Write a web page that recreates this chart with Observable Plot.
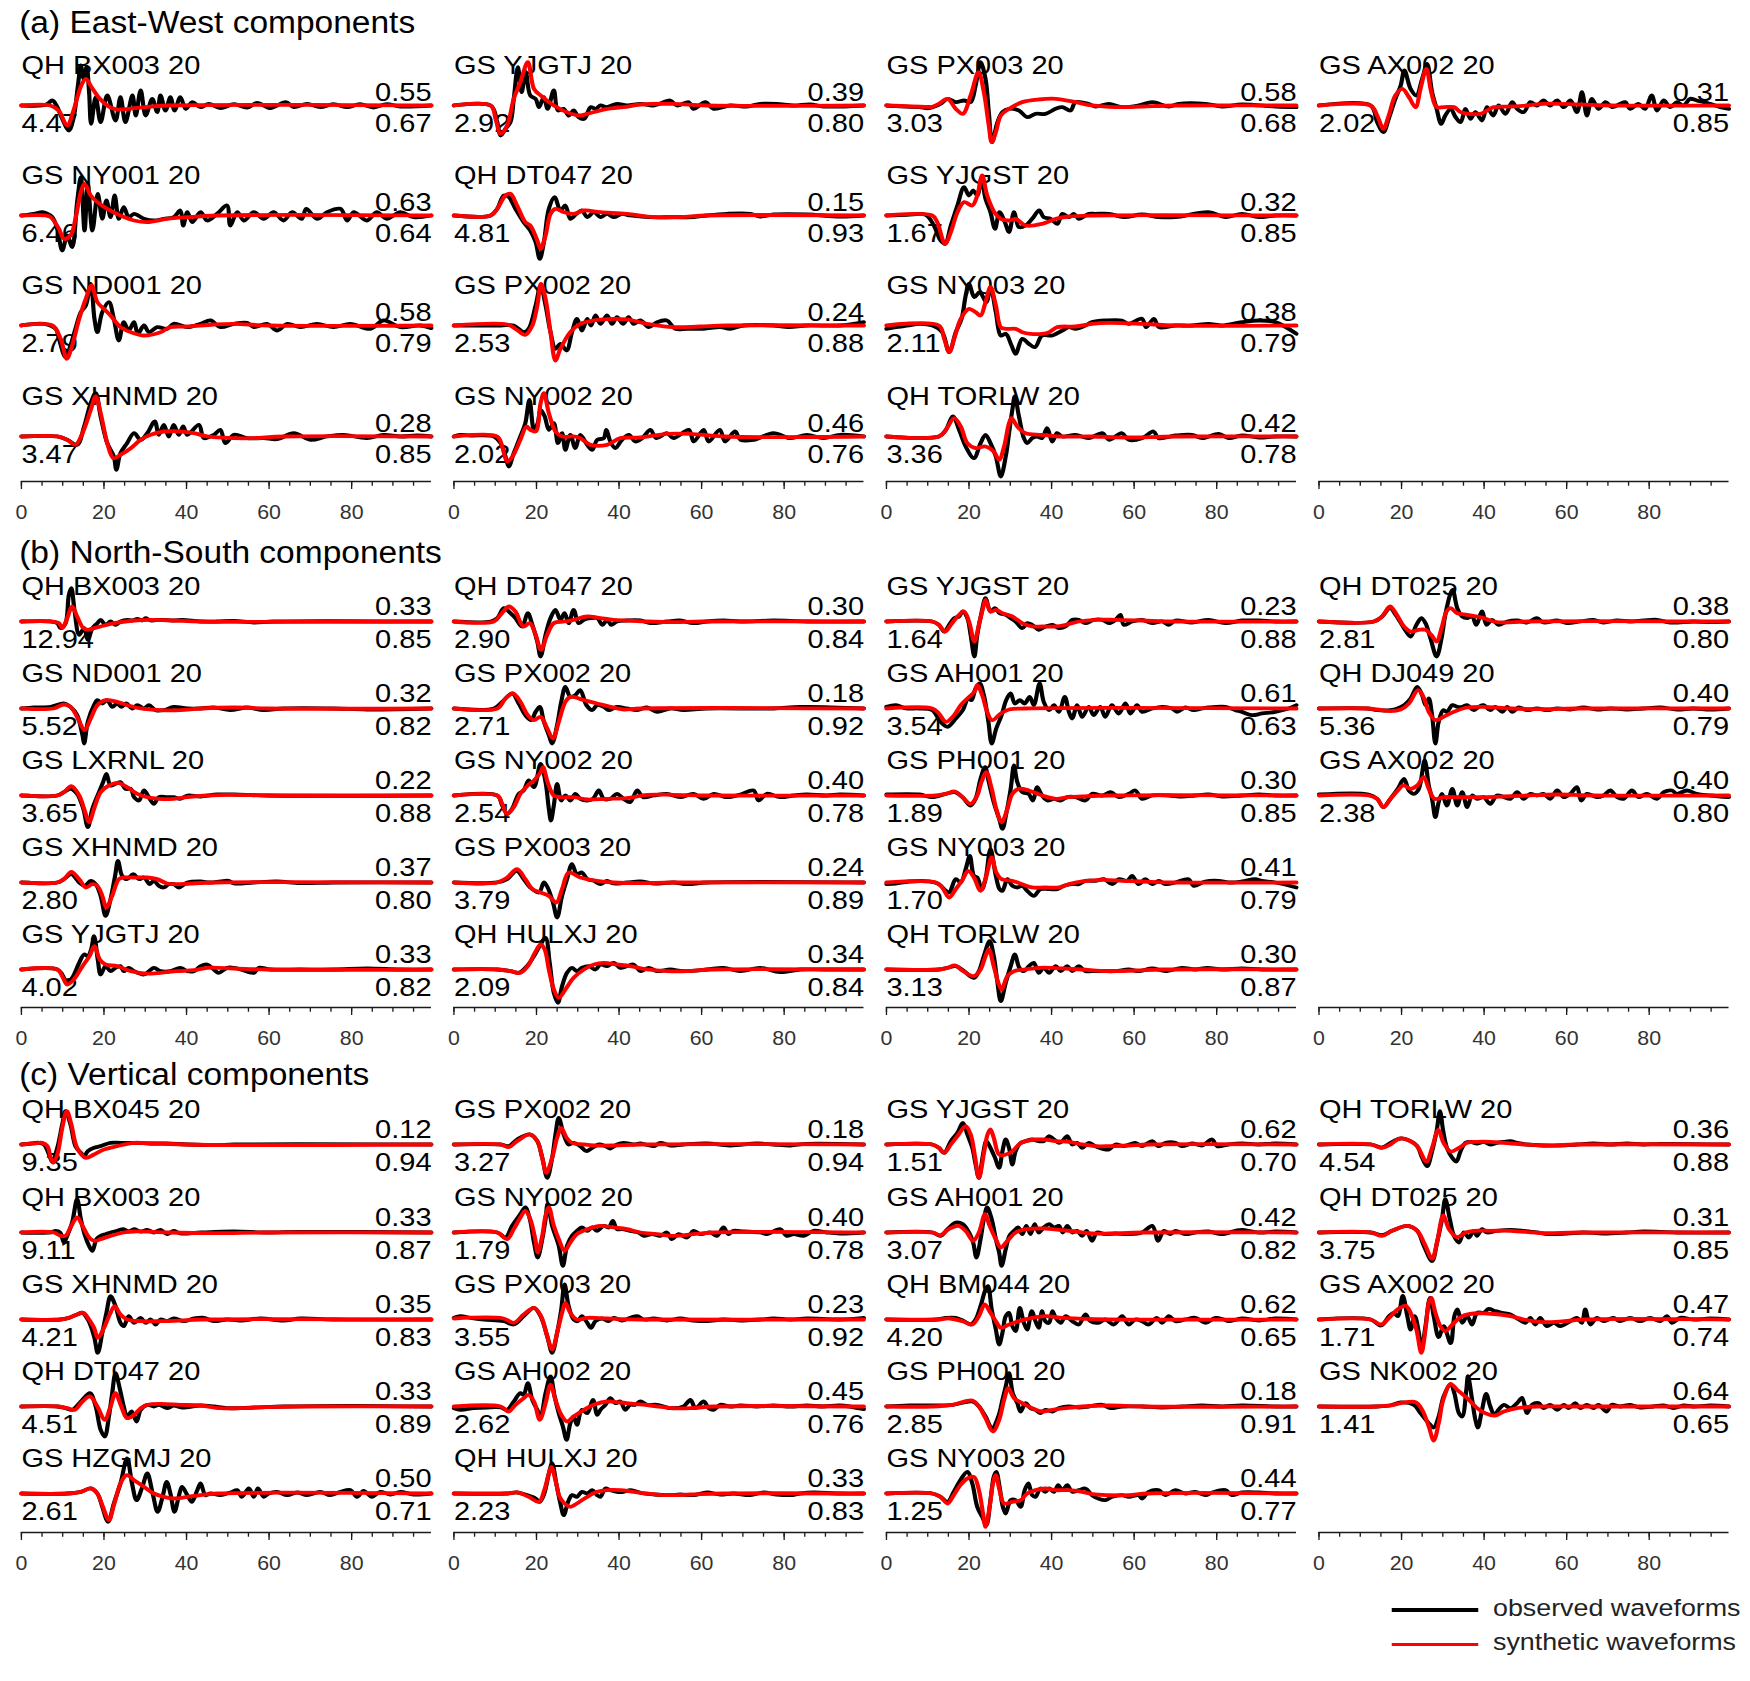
<!DOCTYPE html>
<html><head><meta charset="utf-8">
<script src="https://cdn.jsdelivr.net/npm/d3@7"></script>
<script src="https://cdn.jsdelivr.net/npm/@observablehq/plot@0.6"></script>
<style>
html,body{margin:0;padding:0;background:#fff;overflow:hidden;}
#stage{position:relative;width:1598.2px;height:1681px;transform:scaleX(1.095);transform-origin:0 0;font-family:"Liberation Sans",Arial,Helvetica,sans-serif;}
.title{position:absolute;font-size:30.6px;line-height:1;white-space:nowrap;color:#000;}
.leg{position:absolute;font-size:24.5px;line-height:1;white-space:nowrap;color:#222;}
.sw{position:absolute;height:3.5px;}
</style></head><body><div id="stage"></div><script>
// ---------------- DATA ----------------
const sectionTitles = ["(a) East-West components", "(b) North-South components", "(c) Vertical components"];
const timeTicks = [0, 20, 40, 60, 80];
const timeMinorTicks = [0, 5, 10, 15, 20, 25, 30, 35, 40, 45, 50, 55, 60, 65, 70, 75, 80, 85, 90, 95];
const legendLabels = ["observed waveforms", "synthetic waveforms"];

// East-West (per column, per row)
const ewStations = [["QH BX003 20","GS NY001 20","GS ND001 20","GS XHNMD 20"],["GS YJGTJ 20","QH DT047 20","GS PX002 20","GS NY002 20"],["GS PX003 20","GS YJGST 20","GS NY003 20","QH TORLW 20"],["GS AX002 20"]];
const ewPeak = [[4.47,6.46,2.79,3.47],[2.92,4.81,2.53,2.02],[3.03,1.67,2.11,3.36],[2.02]];
const ewTop = [[0.55,0.63,0.58,0.28],[0.39,0.15,0.24,0.46],[0.58,0.32,0.38,0.42],[0.31]];
const ewBottom = [[0.67,0.64,0.79,0.85],[0.80,0.93,0.88,0.76],[0.68,0.85,0.79,0.78],[0.85]];
// traces: flat [time(s), normalized amplitude, ...]
const ewObs = [
 [
  [0,0, 5,0, 6.3,5, 7.5,15, 8.5,0, 9.9,-40, 11.5,-75, 12.6,-40, 13.7,60, 14.4,120, 15.1,80, 15.8,115, 16.4,40, 16.9,-55, 18,25, 19.2,-50, 20.8,30, 22.8,-45, 24,25, 25.2,-50, 26.9,30, 27.7,-30, 28.9,45, 30.1,-30, 31.7,20, 32.9,-20, 33.7,30, 34.9,-15, 36.1,25, 37.1,-15, 38.5,25, 39.8,-10, 41.4,10, 43.4,-5, 45.4,5, 48.2,-8, 51.5,4, 54.7,-6, 57.1,8, 60.3,-8, 64,10, 66,-5, 69.2,5, 72.4,-5, 75.6,4, 78.9,-5, 82,4, 85.3,-6, 88.5,4, 91.8,-3, 99.3,0],
  [0,0, 3,5, 5.1,10, 6.3,5, 7.5,-5, 8.7,-40, 9.9,-105, 11.1,-60, 12.3,-95, 13.5,40, 14.4,115, 15.3,-45, 16.1,95, 17.2,-45, 18.5,65, 19.6,-10, 20.6,45, 21.6,-5, 22.6,60, 23.6,-10, 24.8,25, 26,-5, 27.3,5, 29.7,-10, 32.1,-15, 34.5,-10, 36.9,-5, 38.5,15, 39.2,-30, 40.2,10, 41.4,-20, 43.4,10, 45,-15, 47.4,5, 49.8,30, 50.6,-30, 52.3,10, 53.9,-15, 56.3,10, 58.7,-10, 61.1,10, 63.5,-15, 65.6,10, 67.9,-10, 69,20, 71.6,-10, 74,10, 77.3,20, 78.9,-15, 80.5,10, 83.7,-15, 86.1,10, 88.5,-10, 91.8,10, 95,-5, 99.3,0],
  [0,0, 5.5,5, 8.3,-10, 9.1,-40, 10.7,-95, 11.9,-60, 13.1,-10, 14.4,40, 15.6,60, 16.8,125, 17.7,20, 18.4,-20, 19.6,40, 21.2,70, 22.4,20, 23.6,-45, 24.8,10, 26,-15, 27.3,10, 28.2,-25, 29.7,0, 30.9,-20, 32.9,-5, 35.3,-10, 36.9,5, 40.2,-5, 43.4,5, 45.8,15, 48.2,-5, 51.5,5, 54.7,8, 56.3,-5, 59.5,5, 62,-15, 64.4,5, 67.6,-5, 71.6,5, 75.6,-5, 79.7,5, 84.5,-10, 87.7,15, 91.8,-5, 96.6,0, 99.3,-8],
  [0,0, 8.7,0, 11.1,-10, 13.5,-25, 15.2,30, 16.8,100, 18,130, 19.2,60, 20.8,-20, 22.4,-60, 23,-100, 24,-50, 25.6,-20, 27.3,10, 28.9,-10, 30.5,10, 32.3,45, 33.3,5, 34.5,35, 35.7,0, 36.9,35, 38.1,5, 39.2,30, 40.2,5, 43,35, 44.2,-5, 46.6,5, 48.2,20, 49.4,-20, 51.5,5, 54.7,-5, 58.7,-5, 62,-8, 66,10, 70,-10, 74,0, 78.1,5, 83.7,-5, 87.7,5, 91.8,0, 95.8,3, 99.3,0]
 ],
 [
  [0,0, 8.9,0, 10.5,-50, 11.3,-90, 12.5,-70, 13.7,-50, 14.5,20, 15.5,115, 16.4,40, 17.4,100, 18.5,30, 19.8,20, 20.6,-5, 21.8,25, 22.7,-10, 24.2,45, 25.2,-15, 26.6,-10, 27.8,-30, 29,-15, 30.2,-35, 31.6,-40, 33.1,-5, 34.3,-10, 35.5,0, 37,-5, 39.5,5, 41.9,0, 45.2,5, 48.4,0, 52.4,15, 54,0, 56.9,10, 58,-10, 60.9,10, 62.9,-10, 66.9,0, 71,-3, 74.2,5, 78.2,5, 82.3,0, 86.3,3, 89.5,-3, 99.3,0],
  [0,0, 8.9,0, 10.5,20, 12.1,60, 13.3,55, 14.9,20, 16.9,-20, 18.5,-45, 19.8,-80, 20.8,-130, 21.8,-80, 23,20, 24.4,55, 25.8,15, 27,30, 28.2,-10, 29.7,5, 31,15, 32.3,-5, 33.9,10, 35.5,-5, 37.1,5, 38.7,-5, 40.7,5, 42.7,0, 47.6,-5, 53.2,-5, 58.1,-5, 61.3,0, 66.1,5, 71.8,5, 74.2,-3, 77.4,3, 85.5,3, 93.5,-3, 99.3,0],
  [0,0, 11.3,0, 14.5,0, 16.9,-20, 18.1,-10, 19.8,60, 21,120, 22.2,60, 23.4,-20, 24.6,-70, 25.8,-55, 27.3,-75, 28.6,-20, 29.8,20, 31,-15, 32.3,20, 33.2,0, 34.3,30, 35.5,5, 37.1,30, 38.3,5, 39.5,25, 41,5, 42.3,25, 43.5,5, 45.2,15, 47.2,-5, 49.2,10, 51.6,15, 53.6,-10, 56.5,-10, 60.5,-10, 64.5,-5, 66.9,-10, 70.2,0, 77.4,0, 81.1,-5, 85.5,0, 93.5,0, 99.3,10],
  [0,0, 1.5,5, 4,3, 9.7,0, 11.3,-20, 12.5,-60, 13.3,-90, 14.5,-50, 16.1,0, 17.3,40, 18.3,110, 19.4,20, 20.3,40, 21,80, 22,60, 23,20, 24.2,40, 25.2,-20, 26.2,10, 27,-40, 28.2,5, 29.4,-35, 30.6,5, 32.3,-25, 33.5,-40, 34.7,-10, 36.3,-5, 36.9,20, 37.9,-15, 39.1,-35, 40.7,-10, 42.4,5, 43.9,-15, 45.6,-5, 47.6,20, 49,-5, 51.6,10, 53.2,-5, 56.9,20, 58.1,-15, 60.5,20, 61.7,-15, 64.4,20, 65.7,-15, 68.1,15, 69.4,-10, 72.6,-10, 77.4,10, 81.5,-5, 85.5,5, 89.5,-5, 93.5,5, 99.3,0]
 ],
 [
  [0,0, 2.3,-2, 7.9,-5, 10.3,-8, 13.1,5, 14.8,20, 16.8,10, 18.8,15, 20.4,10, 21.6,60, 22.8,130, 24,80, 24.8,-20, 25.6,-110, 26.9,-50, 28.1,-20, 29.7,-10, 32.1,-15, 34.1,-35, 36.1,-25, 38.5,-25, 41,-10, 42.6,-5, 44.6,-15, 45.8,10, 48.9,5, 50.6,-3, 53.9,5, 57,-5, 61.1,0, 64.4,10, 68.4,-3, 70.8,5, 77.3,5, 81.3,-3, 86.1,3, 94.2,-3, 99.3,-5],
  [0,0, 5,2, 9.5,2, 11.5,-30, 13.1,-75, 14.2,-85, 15.6,-30, 17.2,30, 18.8,85, 20,60, 21,75, 22,60, 23,110, 24,50, 25.2,10, 26.3,-40, 27.4,10, 28.7,-20, 29.7,-50, 30.9,10, 32.1,-35, 33.7,-30, 35.3,-10, 37,15, 38.1,-5, 39.8,-10, 41.4,-25, 42.6,5, 44.2,-5, 45.4,5, 46.6,-10, 49,5, 50.6,5, 53.9,5, 57.5,-5, 61.9,3, 66,-5, 70,-5, 78,10, 82.1,-5, 86.1,5, 90.2,-5, 94.2,0, 99.3,0],
  [0,-10, 2.3,-5, 5.5,0, 7.9,5, 11.1,0, 13.5,-20, 15.2,-80, 16.8,-20, 18.2,20, 19.2,90, 20,125, 21.3,85, 22.6,100, 24.2,70, 25.2,115, 26.5,40, 27.7,-30, 28.9,-25, 30.3,-60, 31.3,-85, 32.9,-40, 34.5,-55, 36,-65, 37.7,-30, 40.2,-30, 42.6,-15, 44.2,-5, 45.8,-10, 48.2,0, 49.8,10, 53,15, 57,15, 58.7,5, 61.9,20, 62.9,-5, 64.8,20, 66,-5, 70,0, 74,0, 78,5, 81.3,0, 86.1,10, 90.2,15, 94.2,10, 99.3,-25],
  [0,0, 12.7,0, 14.4,20, 16.1,60, 17.6,20, 19.2,-30, 21.2,-65, 22.8,-20, 24,5, 25.2,-20, 26.5,-60, 27.7,-120, 28.9,-60, 29.7,10, 30.5,80, 31.1,120, 32.1,60, 33.3,-5, 34.1,-20, 35.3,-5, 36.5,0, 37.7,-5, 38.9,25, 40.2,-15, 41.3,10, 42.6,0, 45.8,5, 49,-5, 52.3,10, 53.9,-10, 57,10, 58.7,-10, 61.9,-5, 64.7,15, 65.9,-5, 70,3, 74,5, 76.5,-5, 80.5,8, 82.9,-5, 86.1,3, 90.2,-3, 94.2,0, 99.3,0]
 ],
 [
  [0,0, 12.5,0, 14.1,-50, 15.6,-80, 16.9,-40, 18.5,20, 19.8,60, 20.7,105, 22.2,50, 23.6,30, 25,80, 26.2,125, 27.4,40, 28.5,-10, 29.6,-55, 30.6,-30, 31.9,-10, 33.1,-35, 34.3,-50, 35.5,-10, 36.7,-40, 37.9,-20, 39.5,-45, 40.7,-5, 42.2,-30, 43.5,0, 45.2,-25, 46.8,10, 48,-10, 49.6,-20, 51.2,10, 52.8,0, 54.4,15, 56,0, 57.7,15, 59.3,-5, 60.9,15, 62.5,-20, 63.7,40, 64.9,-30, 66.1,20, 67.7,-10, 69.4,10, 71,-5, 73,5, 74.2,10, 75.4,-10, 77.4,5, 79,-10, 80.6,30, 81.9,-15, 83.5,15, 85.1,-5, 86.7,10, 88.3,0, 89.9,20, 91.5,15, 94.8,5, 97.2,-5, 99.3,-10]
 ]
];
const ewSyn = [
 [
  [0,0, 7,0, 9,-15, 11.1,-60, 12.5,-20, 14.5,60, 15.6,80, 17,55, 19,20, 21,-2, 23,-12, 26,-10, 30,-5, 35,0, 99.3,0],
  [0,0, 6,0, 7.1,-5, 9.1,-40, 10.3,-70, 11.9,-60, 13.1,-10, 14.4,70, 15.3,95, 16.8,60, 18.4,40, 20.8,20, 24,0, 27.3,-15, 30.5,-20, 35.3,-10, 40.2,-5, 47.4,0, 99.3,0],
  [0,0, 7.5,0, 9.5,-40, 11,-100, 12.3,-60, 14,20, 15.6,80, 17,120, 18.4,70, 20,50, 21.6,30, 24,-5, 26.5,-20, 29.7,-30, 33.7,-20, 36.1,-5, 40.2,-3, 46.6,3, 51.5,5, 60,0, 99.3,0],
  [0,0, 8.7,0, 11.1,-10, 13.1,-25, 14.8,10, 16.8,80, 18,120, 19.2,70, 20.8,-20, 22.3,-65, 24,-55, 26.5,-35, 28.9,-10, 31.3,5, 34.5,15, 38.5,15, 41.8,10, 45,0, 51.5,-5, 56.3,-5, 63.5,0, 99.3,0]
 ],
 [
  [0,0, 8.9,0, 10.1,-40, 11.3,-85, 12.9,-60, 14.5,20, 16.1,70, 17.9,130, 19.4,50, 21,30, 24.2,0, 27.4,-20, 30.6,-30, 32.3,-25, 37.1,-10, 41.1,-5, 45.2,3, 53.2,5, 61.3,0, 99.3,0],
  [0,0, 8.9,0, 10.5,20, 12.5,60, 13.7,65, 15.3,30, 17.3,-20, 18.5,-30, 20.2,-75, 21,-100, 22.2,-60, 23.4,5, 24.6,20, 26.6,10, 29,5, 31.5,15, 35.5,10, 41.9,5, 48.4,-5, 54.8,-5, 61.3,0, 99.3,0],
  [0,0, 12.9,3, 14.9,-10, 17.3,-28, 19,0, 20.2,60, 21.1,125, 22.2,80, 23.4,-20, 24.6,-105, 25.8,-70, 28.2,-20, 30.6,5, 33.9,15, 38.7,20, 41.9,18, 46.8,5, 53.2,-5, 59.5,-3, 66,0, 99.3,0],
  [0,0, 10.5,0, 11.7,-30, 12.9,-75, 14.2,-60, 16.1,-10, 17.6,30, 18.5,20, 19.8,15, 21,100, 21.8,130, 23,70, 24.6,15, 26.2,0, 29,0, 30.6,-5, 33.1,-25, 37.1,-25, 40.3,-5, 45.2,-3, 51.6,8, 57.3,8, 65.3,0, 99.3,0]
 ],
 [
  [0,0, 9.5,-4, 11.1,-4, 12.7,5, 14.8,20, 16.8,-10, 18.5,-25, 20.4,30, 22.3,100, 23.6,40, 24.8,-60, 25.5,-110, 26.5,-80, 27.7,-30, 29.7,-10, 32.9,10, 36.9,18, 41,20, 45.8,10, 49.8,0, 55.5,-5, 62,-3, 70,0, 99.3,0],
  [0,0, 11.1,0, 12.3,-20, 14.2,-85, 15.6,-50, 17.2,10, 18.8,40, 20.8,30, 22,60, 23.2,120, 24.4,60, 26.4,5, 27.7,-10, 29.7,-15, 31.3,-10, 33.7,-30, 37.7,-25, 41,-10, 44.2,-3, 49.8,0, 99.3,0],
  [0,0, 12.7,0, 14,-40, 15.2,-80, 16.4,-40, 18,20, 20,50, 21.6,40, 22.8,30, 24,70, 25.2,115, 26.5,60, 27.7,-5, 28.9,-10, 31.3,-10, 32.9,-20, 34.9,-25, 37.7,-25, 39.4,-20, 41.4,-5, 45.8,-3, 49.8,5, 53.9,8, 62,5, 70,0, 99.3,0],
  [0,0, 12.7,0, 14.4,20, 16.4,55, 18,30, 19.6,-20, 21.6,-35, 24,-30, 26,-45, 27.3,-70, 28.5,-30, 29.7,40, 30.3,55, 31.7,30, 33.7,10, 37.7,5, 41.8,0, 49.8,0, 57.9,-3, 70,0, 99.3,0]
 ],
 [
  [0,0, 12.5,0, 14.1,-30, 15.6,-70, 16.9,-30, 18.5,30, 20.2,50, 21.8,25, 23.4,-5, 24.6,50, 26,110, 27.2,40, 28.5,-5, 30.2,-5, 32.7,-5, 34.3,-20, 36.3,-25, 39.1,-25, 40.7,-15, 42.3,-5, 46.4,-3, 50.4,0, 54.4,5, 58.5,5, 62.5,3, 70.6,0, 99.3,0]
 ]
];

// North-South
const nsStations = [["QH BX003 20","GS ND001 20","GS LXRNL 20","GS XHNMD 20","GS YJGTJ 20"],["QH DT047 20","GS PX002 20","GS NY002 20","GS PX003 20","QH HULXJ 20"],["GS YJGST 20","GS AH001 20","GS PH001 20","GS NY003 20","QH TORLW 20"],["QH DT025 20","QH DJ049 20","GS AX002 20"]];
const nsPeak = [[12.94,5.52,3.65,2.80,4.02],[2.90,2.71,2.54,3.79,2.09],[1.64,3.54,1.89,1.70,3.13],[2.81,5.36,2.38]];
const nsTop = [[0.33,0.32,0.22,0.37,0.33],[0.30,0.18,0.40,0.24,0.34],[0.23,0.61,0.30,0.41,0.30],[0.38,0.40,0.40]];
const nsBottom = [[0.85,0.82,0.88,0.80,0.82],[0.84,0.92,0.78,0.89,0.84],[0.88,0.63,0.85,0.79,0.87],[0.80,0.79,0.80]];
const nsObs = [
 [
  [0,0, 7.1,0, 8.7,-5, 9.5,-20, 10.7,-5, 11.5,80, 12.1,100, 12.9,30, 14,-40, 15.2,-20, 16.1,-55, 17.2,-20, 18.4,-5, 19.2,5, 20.4,-10, 21.6,0, 22.8,-10, 24,0, 25.6,5, 26.9,3, 28.1,8, 29.3,3, 30.1,10, 31.3,3, 33.7,5, 36.9,3, 39,5, 43.4,0, 47.4,0, 51.5,2, 56.3,-3, 61.1,0, 99.3,0],
  [0,0, 3.1,3, 7.1,5, 10.3,15, 11.9,5, 13.5,-20, 14.8,-80, 15.2,-105, 16.1,-40, 17.6,10, 18.4,25, 19.6,15, 20.8,25, 22,5, 23.2,15, 24.2,5, 25.4,15, 26.8,0, 28.1,10, 29.7,0, 30.9,10, 32.5,-5, 34.5,-5, 36.9,5, 40.2,0, 43.4,0, 46.6,3, 50.6,-5, 54.7,3, 58.7,-5, 63.5,0, 75.6,0, 83.7,-3, 99.3,0],
  [0,0, 8.7,0, 10.3,10, 11.9,20, 13.5,5, 15,-40, 16.1,-95, 17.2,-40, 18.8,10, 19.8,40, 20.6,65, 21.6,30, 22.8,35, 24,40, 25.2,20, 26.5,20, 27.3,-5, 28.5,-15, 29.7,15, 31.1,-10, 32.1,-25, 33.3,-5, 35.3,-5, 36.9,-5, 38.5,-10, 40.2,0, 43.4,-3, 47.4,3, 51.5,3, 59.5,0, 99.3,0],
  [0,0, 8.7,0, 10.3,10, 12.1,25, 14,0, 15.3,-10, 16.8,5, 18,-5, 19.2,-40, 20.4,-100, 21.6,-50, 22.7,20, 23.4,65, 24.4,20, 25.6,10, 27.1,25, 28.5,10, 29.7,15, 31.1,-5, 32.1,5, 33.3,-10, 34.5,-15, 35.7,-5, 36.9,-5, 38.1,-15, 40.2,0, 43.4,3, 45.8,0, 48.2,3, 50.2,5, 51.5,-3, 56.3,0, 61.9,3, 67.6,-2, 75.6,0, 99.3,0],
  [0,0, 8.7,0, 9.9,-15, 11.1,-40, 12.3,-25, 14,20, 15.2,45, 16.1,40, 16.9,60, 17.6,100, 18.5,30, 19.2,-15, 20.4,10, 21.6,-5, 22.8,5, 24,10, 24.8,-5, 26,5, 27.3,-5, 29.7,-15, 32.1,5, 33.7,-5, 36.1,-5, 38.5,5, 40.2,-5, 41.8,-5, 43.4,10, 45,15, 46.6,0, 47.8,-10, 49.8,5, 51.5,5, 53.1,0, 56.3,-10, 57.5,5, 60.3,0, 67.6,0, 75.6,0, 83.7,3, 91.8,0, 99.3,0]
 ],
 [
  [0,0, 8.9,0, 10.5,10, 12.1,40, 13.7,25, 14.9,10, 16.5,-15, 17.9,25, 19,-10, 20.2,-60, 21,-105, 22.2,-40, 23.4,10, 24.6,35, 25.8,5, 26.8,25, 27.8,-5, 29,35, 30.2,-5, 31.5,5, 33.1,10, 34.7,10, 36,-10, 37.1,5, 38.1,-10, 39.5,0, 41.9,3, 45.2,3, 47.6,-5, 51.6,0, 54.8,3, 58,-5, 61.3,0, 65.3,3, 69.4,0, 77.4,3, 85.5,0, 99.3,0],
  [0,0, 9.7,0, 11.7,20, 14.1,45, 15.7,15, 17.3,-20, 18.7,-35, 19.8,-10, 20.8,5, 21.8,-40, 23,-80, 23.8,-105, 25,-50, 26,20, 27,65, 28.2,35, 29.4,40, 30.6,55, 32.1,10, 33.5,-5, 34.7,10, 36.3,5, 37.5,-5, 39.5,5, 41.9,0, 44.4,-5, 46.8,3, 49.2,-10, 52.4,0, 55.6,-5, 61.3,0, 77.4,0, 83.9,5, 99.3,0],
  [0,0, 10.5,0, 11.7,-30, 12.9,-55, 14.1,-40, 15.7,5, 16.9,15, 18.1,45, 19.4,25, 21,95, 22.2,40, 23,-40, 23.5,-75, 24.2,-30, 25,35, 26,-15, 27,0, 28.2,-15, 29.4,5, 30.6,-10, 32.3,-15, 33.7,-10, 35.1,15, 36.3,-10, 37.9,-10, 39.5,5, 41.1,-10, 42.7,-20, 44.4,15, 45.8,-5, 48.4,0, 51.6,5, 54.8,-5, 58,5, 60.5,-10, 62.9,5, 66.1,-5, 69.4,3, 72.6,15, 73.8,-15, 75.8,5, 79,-5, 82.3,0, 85.5,3, 90.3,0, 93.5,3, 99.3,0],
  [0,0, 10.5,0, 12.9,10, 15.2,35, 16.9,10, 18.5,-15, 20.6,-30, 21.8,0, 22.7,-15, 24,-60, 25,-105, 26.2,-40, 27.4,10, 28.6,55, 29.8,25, 31,30, 32.3,10, 33.9,5, 35.5,-5, 37.1,5, 38.7,-3, 41.9,0, 45.2,3, 48.4,-3, 53.2,0, 56.5,-5, 61.3,0, 99.3,0],
  [0,0, 10.5,0, 13.7,-5, 15.7,-10, 17.7,10, 19.4,40, 21,75, 22.2,95, 23.2,20, 24.2,-70, 25.2,-100, 26.2,-50, 27.4,-10, 28.6,5, 29.8,-5, 31,5, 32.7,10, 34.3,0, 35.5,15, 37.1,10, 38.7,20, 40.3,5, 41.9,10, 43.5,15, 45.2,-5, 47.2,5, 49.2,-5, 52.4,0, 55.6,-5, 61.3,0, 65.3,5, 69.4,-5, 74.2,5, 79,-8, 83.9,0, 89.5,0, 99.3,0]
 ],
 [
  [0,0, 11.1,0, 12.7,-10, 14,-30, 15.2,-10, 16.4,10, 17.6,15, 18.5,30, 19.6,10, 20.4,-40, 21.3,-105, 22,-40, 23.1,30, 24,70, 25.2,30, 26.3,40, 27.4,25, 28.9,20, 30.1,10, 31.3,0, 32.9,-20, 34.1,-5, 35.3,-10, 36.9,-25, 38.5,-15, 40.2,-10, 41.8,-20, 43.4,-15, 45,5, 46.6,5, 48.2,-5, 50.2,5, 52.3,5, 53.9,-5, 55.5,5, 56.7,20, 57.5,-10, 59.5,0, 61.9,5, 64.4,-5, 66.8,0, 68.4,-10, 70,3, 74,-3, 78,5, 82.1,-5, 86.1,3, 90.2,3, 94.2,0, 99.3,0],
  [0,5, 2.3,10, 4.7,0, 7.9,0, 11.1,-5, 13.1,-40, 14.8,-55, 16.8,-30, 18.5,-5, 19.8,30, 20.6,25, 21.6,60, 22.6,75, 23.6,40, 24.7,-40, 25.5,-105, 26.6,-60, 27.9,-20, 29,25, 30.1,45, 31.1,15, 32.3,25, 33.5,15, 34.7,35, 35.7,10, 37.1,75, 38.1,20, 39.4,-5, 40.6,10, 41.8,-10, 43.2,35, 44.2,-10, 45,-30, 46.2,10, 47.4,-25, 49,5, 50.2,-20, 51.8,5, 53,-25, 54.6,10, 56.3,-15, 57.9,15, 59.1,-15, 60.7,10, 61.9,-10, 64.4,0, 66.8,5, 69.2,0, 70.4,-10, 72.4,3, 74.4,-5, 76.5,0, 78,3, 82.1,5, 84.5,-5, 86.1,-10, 88.5,-20, 91,-15, 94.2,-10, 97.4,0, 99.3,10],
  [0,3, 8,3, 11.1,-5, 14.4,5, 16.6,10, 18.4,-5, 20.4,-30, 21.6,-10, 22.8,50, 23.9,85, 24.8,40, 26,-20, 27.3,-70, 28.1,-100, 29.1,-50, 30.1,20, 30.9,90, 31.7,40, 32.9,10, 34.4,5, 35.5,-15, 36.5,25, 37.7,0, 39,-15, 40.6,-10, 42.2,-15, 43.8,-5, 45.8,-5, 48.2,-15, 49.8,5, 52.3,0, 54.3,10, 56.3,-5, 58.7,5, 60.3,15, 61.9,-10, 64.4,0, 68.4,0, 71.6,-3, 74.8,0, 78,3, 81.3,-3, 86.1,0, 90.2,3, 94.2,0, 99.3,0],
  [0,-5, 2.3,-3, 5.5,3, 10.3,3, 12.7,-5, 14.4,-25, 15.2,-30, 16.8,10, 18,0, 19.2,40, 20.2,80, 21.2,20, 22,15, 23.1,-20, 24,10, 25.2,100, 26.5,20, 27.4,-20, 28.1,-25, 29.3,10, 30.5,-10, 31.7,-15, 32.9,-10, 34.1,-25, 35.7,-40, 37.3,-20, 39.4,-20, 41.4,-20, 43,-10, 45,-5, 46.6,-5, 48.2,5, 50.6,5, 52.7,10, 54.7,-5, 56.3,10, 58.3,5, 59.5,20, 61.1,-5, 62.7,10, 64.4,-5, 66,5, 67.6,-5, 70,0, 73.2,10, 74.4,-10, 77.2,3, 80.5,5, 82.9,0, 86.1,3, 89.3,10, 90.9,5, 94.2,0, 99.3,-15],
  [0,0, 12.7,0, 14.8,5, 16.8,10, 18.8,-5, 21.2,-25, 22.4,-5, 23.6,40, 25,85, 26,40, 26.8,-30, 27.7,-95, 28.9,-40, 30.1,10, 31.1,45, 32.2,5, 33.3,-5, 34.5,10, 35.7,20, 36.9,-10, 38.1,5, 39.4,-10, 41,10, 42.2,-5, 43.8,10, 45,-5, 46.6,10, 48.2,-5, 49.8,-5, 52.3,-5, 55.5,-5, 58.7,0, 61.1,-5, 64.4,3, 67.6,-5, 71.6,5, 74.8,0, 77.7,5, 81.3,0, 86.1,3, 90.9,0, 99.3,0]
 ],
 [
  [0,0, 13.3,0, 15.3,15, 17.2,40, 18.6,20, 20.6,-20, 22.2,-45, 23.6,-10, 24.8,10, 25.8,-5, 27,-50, 28.5,-105, 29.7,-50, 30.6,20, 31.9,85, 32.4,95, 33.5,40, 34.7,15, 35.9,10, 37.1,15, 38.1,-10, 39.5,30, 40.6,-10, 41.9,5, 43.5,-10, 45.6,0, 48,3, 50.4,-3, 52.8,10, 54.4,-3, 57.7,3, 60.1,-5, 63.3,0, 66.5,5, 68.9,-3, 72.2,3, 75.4,0, 78.6,3, 81.9,5, 85.1,-3, 90.7,0, 94.8,-2, 99.3,0],
  [0,0, 11.7,0, 14.1,-5, 17.3,-5, 19,0, 20.6,10, 22.2,30, 23.8,65, 25,40, 25.8,10, 26.6,30, 27.4,-20, 28.2,-105, 29,-40, 30.1,-5, 31,-10, 32.3,10, 33.5,5, 34.7,5, 35.9,10, 37.5,-5, 38.7,5, 39.9,10, 41.5,-5, 42.7,5, 44.4,-10, 45.6,5, 46.8,-10, 48.4,3, 50.4,-5, 52.8,0, 55.3,-5, 57.7,0, 60.9,-3, 64.1,3, 67.3,-3, 70.6,0, 74.6,-3, 78.6,0, 82.7,3, 86.7,-3, 90.7,0, 94.8,-3, 99.3,0],
  [0,3, 12,3, 14.1,-10, 15.6,-35, 17.3,-10, 19.1,20, 20.6,50, 21.8,15, 23,5, 24.2,20, 25.6,105, 26.6,30, 27.4,-10, 28.2,-65, 29,-20, 29.8,5, 31,-30, 32.3,20, 33.5,-30, 34.7,10, 35.9,-35, 37.1,0, 38.3,-10, 39.9,-5, 41.5,-25, 43.1,0, 44.8,-5, 46.4,-10, 48,10, 49.6,-10, 51.2,5, 52.8,0, 54.4,5, 56,-10, 57.7,15, 59.3,-5, 60.9,5, 62.5,25, 63.5,-15, 64.9,5, 67.3,-5, 68.9,0, 70.6,15, 72.2,-5, 73.8,-10, 75.8,15, 77.4,-5, 79.4,5, 81.9,-10, 83.5,10, 85.5,15, 86.7,5, 89.1,15, 91.5,5, 94.8,0, 99.3,-5]
 ]
];
const nsSyn = [
 [
  [0,0, 7.1,0, 9.1,-5, 9.9,-20, 11.1,10, 12.3,45, 13.5,15, 15,-20, 16.1,-25, 17.6,-20, 19.2,-15, 22.4,-5, 27.3,3, 31.3,5, 36.9,3, 43.4,0, 99.3,0],
  [0,0, 7.8,0, 10.3,12, 11.9,5, 13.7,-30, 15.3,-65, 16.8,-30, 18.4,10, 20.4,25, 23.2,20, 25.6,10, 28.9,0, 33.7,-5, 38.5,-5, 43.4,0, 51.5,3, 60,0, 99.3,0],
  [0,0, 8.7,0, 10.3,10, 12.1,28, 14,0, 15.2,-40, 16.4,-80, 17.6,-40, 19.2,10, 21.2,30, 23.4,38, 25.6,25, 28.1,5, 30.5,-5, 33.3,-10, 36.9,-10, 40.2,-5, 45,0, 51.5,2, 60,0, 99.3,0],
  [0,0, 8.7,0, 10.3,10, 12.1,32, 14,10, 15.6,-15, 17.2,-5, 18.4,-10, 19.6,-40, 20.6,-75, 22,-40, 23.6,10, 24.8,15, 27.3,15, 30.5,15, 32.9,10, 35.3,-3, 37.7,-5, 40.9,-3, 47.4,0, 99.3,0],
  [0,0, 8.7,0, 9.9,-20, 11.1,-45, 12.7,-30, 14.8,10, 16.5,40, 17.7,70, 19,30, 20.4,15, 23.2,10, 26.5,-5, 29.7,-12, 33.7,-10, 37.7,-5, 41.8,-2, 45,5, 51.5,3, 59.5,0, 99.3,0]
 ],
 [
  [0,0, 9.7,0, 11.3,20, 13.3,45, 14.9,30, 16.8,-15, 18.4,-5, 19.8,-40, 21.1,-85, 22.6,-40, 24.2,-5, 26.8,0, 29,5, 32.3,15, 35.5,10, 38.7,5, 41.9,3, 46.8,0, 53.2,-2, 60,0, 99.3,0],
  [0,0, 10.5,0, 12.5,30, 14.3,45, 16.1,20, 17.9,-20, 19.4,-35, 21,-25, 22.6,-60, 24,-90, 25.4,-40, 27,20, 28.2,35, 31.5,25, 34.7,15, 37.9,5, 41.1,-3, 45.2,0, 99.3,0],
  [0,0, 10.5,0, 11.7,-25, 12.9,-55, 14.5,-35, 16.1,5, 17.9,30, 19.4,45, 21,70, 21.6,85, 22.7,40, 24.2,0, 25.8,-5, 29,-5, 32.3,-12, 37.1,-10, 41.9,-8, 46.8,2, 53.2,2, 61.3,0, 99.3,0],
  [0,0, 10.5,0, 12.9,15, 15.3,40, 17.3,10, 19,-20, 21,-30, 23,-40, 24.8,-60, 26.2,-20, 27.8,30, 30.6,15, 34.7,5, 38.7,0, 45.2,-2, 53.2,0, 99.3,0],
  [0,0, 10.5,0, 13.7,-5, 16.1,-10, 17.9,10, 19.6,50, 21,75, 22,60, 23,0, 24.2,-60, 25.4,-85, 27,-60, 29,-25, 31.5,0, 33.9,15, 36.3,20, 39.5,15, 42.7,10, 46.8,0, 51.6,-5, 56.5,-5, 62.9,0, 99.3,0]
 ],
 [
  [0,0, 11.1,0, 12.7,-10, 14.2,-30, 15.6,-10, 17.2,15, 18.8,30, 20,0, 21.3,-60, 22.4,-10, 23.4,40, 24,65, 25.2,30, 26.5,35, 28.1,25, 30.5,15, 32.9,-5, 35.3,-15, 37.7,-15, 41,-15, 43.4,-10, 46.6,0, 50.6,5, 55.5,5, 61.9,3, 70,0, 99.3,0],
  [0,0, 11.1,0, 12.7,-15, 14.4,-40, 16.4,-20, 18,10, 19.6,30, 21.3,50, 22,70, 23.2,40, 24.4,-10, 25.6,-35, 27.7,-15, 29.7,-3, 33.7,0, 99.3,0],
  [0,0, 12,0, 14.4,5, 16.6,12, 18.4,-5, 20.4,-25, 22,0, 23,40, 24.2,70, 25.5,20, 26.6,-40, 27.9,-80, 29.3,-40, 30.5,5, 32.1,20, 34.5,15, 37.7,0, 41,-10, 44.2,-5, 47.4,-3, 53.9,0, 99.3,0],
  [0,0, 12,0, 13.5,-15, 15.2,-45, 16.8,-20, 18.5,10, 19.8,35, 21.2,15, 22.8,-25, 24.2,20, 25.5,75, 26.6,30, 27.9,10, 30.5,5, 32.9,-5, 35.3,-15, 38.5,-15, 41.8,-15, 44.2,-5, 47.4,3, 52.3,8, 57.2,5, 62,3, 70,0, 99.3,0],
  [0,0, 12.7,0, 14.8,5, 16.6,12, 18.6,-5, 21.2,-20, 22.8,0, 24,40, 24.8,60, 26,10, 27.1,-40, 27.9,-60, 29.3,-20, 30.9,-5, 33.7,0, 36.9,5, 40.2,5, 43.4,3, 47.4,0, 53.9,-5, 60.3,-3, 66.8,0, 99.3,0]
 ],
 [
  [0,0, 13.3,0, 15.3,15, 17.2,45, 18.6,25, 20.6,-15, 22.2,-30, 24.2,-25, 25.8,-25, 27.2,-40, 28.5,-60, 29.7,-20, 30.9,30, 31.9,40, 33.5,25, 35.9,20, 38.3,15, 39.9,10, 42.3,0, 44.8,-3, 50.4,0, 99.3,0],
  [0,0, 11.7,0, 14.1,-3, 17.3,-8, 19.8,-3, 21.8,15, 24,55, 25.3,35, 26.6,-10, 28.2,-35, 30.2,-25, 32.7,-10, 35.9,3, 39.9,5, 46.4,0, 54.4,-2, 62,0, 99.3,0],
  [0,0, 12,0, 14.1,-10, 15.6,-35, 17.3,-10, 19.1,15, 20.4,30, 22.2,20, 23.8,30, 25.4,55, 26.6,20, 28,-10, 30.2,-5, 33.5,-5, 36.7,-5, 39.9,-5, 44.8,-3, 50.4,0, 57.7,3, 66.5,0, 99.3,0]
 ]
];

// Vertical
const vtStations = [["QH BX045 20","QH BX003 20","GS XHNMD 20","QH DT047 20","GS HZGMJ 20"],["GS PX002 20","GS NY002 20","GS PX003 20","GS AH002 20","QH HULXJ 20"],["GS YJGST 20","GS AH001 20","QH BM044 20","GS PH001 20","GS NY003 20"],["QH TORLW 20","QH DT025 20","GS AX002 20","GS NK002 20"]];
const vtPeak = [[9.35,9.11,4.21,4.51,2.61],[3.27,1.79,3.55,2.62,2.23],[1.51,3.07,4.20,2.85,1.25],[4.54,3.75,1.71,1.41]];
const vtTop = [[0.12,0.33,0.35,0.33,0.50],[0.18,0.40,0.23,0.45,0.33],[0.62,0.42,0.62,0.18,0.44],[0.36,0.31,0.47,0.64]];
const vtBottom = [[0.94,0.87,0.83,0.89,0.71],[0.94,0.78,0.92,0.76,0.83],[0.70,0.82,0.65,0.91,0.77],[0.88,0.85,0.74,0.65]];
const vtObs = [
 [
  [0,0, 2.3,3, 4.3,5, 5.5,0, 6.7,-30, 7.5,-52, 8.7,-10, 9.9,60, 10.7,100, 11.9,60, 13.1,-5, 14.4,-25, 15.2,-35, 16.1,-20, 17.6,-10, 19.2,-5, 21.6,5, 24,5, 27.3,5, 31.3,3, 35.3,3, 40.2,0, 47.4,-2, 51.5,0, 99.3,0],
  [0,0, 7.1,0, 8.3,5, 9.4,0, 10.3,-30, 11.1,-10, 12.3,30, 13.5,100, 14.4,40, 15.3,-5, 16.4,-40, 17.2,-55, 18.2,-20, 19.2,-10, 20.4,-5, 21.6,0, 23.2,5, 24.7,10, 26,3, 27.3,10, 28.9,3, 30.5,8, 32.1,0, 33.7,8, 35.3,-5, 36.9,5, 38.5,-3, 43.4,0, 51.5,3, 59.5,0, 67.6,2, 99.3,0],
  [0,0, 9.5,0, 11.5,5, 13.5,15, 14.8,20, 16.1,0, 17.6,-50, 18.5,-100, 19.6,-40, 20.6,20, 21.6,70, 22.8,40, 24,-10, 24.8,-20, 26,10, 27.3,-10, 28.9,5, 30.1,-10, 31.3,0, 32.5,-15, 33.7,0, 35.3,-5, 36.9,3, 39.4,-5, 41.8,3, 44.2,5, 46.6,-5, 49.8,0, 53.1,-3, 57.9,3, 63.5,-3, 67.6,3, 75.6,0, 99.3,0],
  [0,0, 8.7,0, 10.7,-5, 12.3,-10, 14.4,15, 16.6,40, 18,0, 19.2,-70, 20.2,-90, 21.2,-30, 22,40, 22.8,100, 23.9,50, 24.8,0, 25.6,-30, 26.7,-15, 27.9,-45, 28.9,-10, 30.5,5, 32.1,0, 33.3,5, 35.3,-5, 36.9,3, 38.9,-3, 43.4,3, 46.6,0, 49.8,-5, 56.3,-3, 63.5,0, 79.7,2, 99.3,0],
  [0,0, 11.1,0, 14.4,5, 16.8,15, 18.4,0, 19.6,-40, 21,-85, 22.4,-30, 24,30, 25.6,105, 26.8,30, 27.9,-20, 29.3,20, 30.5,60, 31.8,0, 33,-55, 34.2,-10, 35.2,35, 36.1,0, 37.1,-55, 38.1,-10, 38.9,20, 40.2,-5, 41.3,-25, 42.6,10, 43.4,30, 44.6,-5, 45.8,0, 48.2,-5, 50.6,3, 52.3,10, 53.4,-10, 55.1,15, 56.3,-10, 57.3,15, 58.7,-10, 59.9,0, 61.9,5, 64.4,-5, 66.8,3, 69.2,-5, 72.4,5, 74.8,-5, 77.3,5, 79.7,10, 81.3,-10, 82.9,8, 84.9,-10, 86.9,5, 89.4,-3, 91.8,5, 95,-3, 99.3,0]
 ],
 [
  [0,0, 11.3,0, 13.3,-5, 15.3,15, 18.5,30, 20.2,10, 21.4,-40, 22.6,-100, 23.8,-40, 24.6,30, 25.4,80, 26.6,30, 27.8,0, 29,5, 30.6,-5, 32.1,-20, 33.5,-10, 35.1,0, 36.7,-5, 37.9,-12, 39.5,0, 41.1,5, 43.5,0, 45.2,3, 48.4,-5, 50,5, 52.4,-3, 55.6,0, 61.3,3, 66.9,-3, 73.4,3, 77.4,0, 81.5,-3, 85.5,2, 99.3,0],
  [0,0, 10.5,0, 12.5,-15, 14.1,20, 16.1,55, 17.3,75, 18.4,40, 19.4,-30, 20.3,-75, 21.4,-20, 22.2,40, 22.7,85, 23.8,20, 24.6,-10, 25.4,-40, 26.4,-100, 27.4,-40, 28.6,-10, 29.8,5, 31,15, 32.3,5, 33.5,15, 34.7,5, 36.3,20, 37.5,15, 38.5,35, 39.5,10, 40.7,10, 42.7,5, 44.7,0, 46,-10, 48,-5, 50,-10, 51.6,0, 52.8,-20, 54.4,-5, 56.5,-15, 58,5, 59.7,-5, 62.1,0, 63.7,-10, 65.3,15, 66.5,-5, 67.7,5, 70.2,3, 74.2,0, 75.8,-5, 79,10, 80.6,-10, 82.3,-5, 84.7,-10, 87.1,5, 90.3,0, 93.5,-3, 99.3,0],
  [0,5, 1.6,10, 4,5, 7.3,0, 12.1,-5, 14.5,-15, 16.9,10, 19.4,35, 21,10, 22.6,-50, 23.8,-100, 25,-40, 26,30, 26.8,105, 27.8,40, 29,0, 30,-5, 31,10, 32.3,-10, 33.2,-25, 34.3,-5, 35.9,3, 37.5,-5, 38.7,5, 40.7,-3, 42.7,5, 44.4,10, 46,0, 48.4,3, 51.6,-3, 54.8,3, 58,-3, 61.3,-5, 65.3,0, 69.4,-3, 74.2,0, 77.4,3, 81.5,0, 85.5,3, 93.5,0, 99.3,5],
  [0,-5, 1.6,-10, 4.8,-5, 8.1,-3, 11.3,-3, 12.9,-10, 14.5,15, 16.1,40, 16.9,35, 17.9,70, 19,20, 20.2,-10, 21,-30, 22.2,40, 23.4,90, 24.4,30, 25.4,-20, 26.4,-60, 27.3,-100, 28.2,-50, 29,-30, 29.8,-55, 31,-10, 32.3,-20, 33.7,20, 34.7,-25, 35.5,-10, 36.7,5, 37.9,25, 39.1,10, 40.3,15, 41.5,-10, 42.7,5, 43.9,5, 45.2,15, 46.8,5, 49.2,5, 52.4,-5, 55.6,0, 57.3,20, 58.5,-5, 60.5,15, 61.7,-5, 62.9,-10, 64.5,5, 66.9,0, 69.4,3, 73.4,0, 77.4,3, 81.5,0, 85.5,3, 89.5,0, 93.5,3, 99.3,-8],
  [0,0, 12.9,0, 15.3,3, 17.7,-5, 19.8,-15, 20.8,-25, 21.9,0, 23,60, 23.8,90, 24.8,30, 25.8,-30, 26.6,-65, 27.8,-20, 28.6,-5, 29.8,-10, 31,5, 32.3,0, 33.5,10, 34.7,-5, 35.5,-10, 36.7,15, 37.9,10, 39.5,5, 41.1,5, 42.7,10, 44.4,5, 46,0, 48.4,-3, 52.4,-5, 54.8,-3, 58,-5, 61.3,3, 64.5,-3, 67.7,0, 71.8,-5, 75,3, 78.2,-3, 81.5,-5, 83.9,0, 87.1,3, 93.5,0, 99.3,0]
 ],
 [
  [0,0, 11.1,0, 12.7,-10, 14,-25, 15.6,10, 17.2,35, 18.5,65, 19.6,30, 20.8,-10, 21.6,-60, 22.4,-100, 23.4,-30, 24.2,10, 25.2,-10, 26.3,-40, 27.3,-70, 28.1,-20, 28.9,15, 29.7,-10, 30.5,-60, 31.3,-20, 32.5,5, 33.7,10, 35.3,15, 36.9,10, 38.1,10, 39.4,25, 40.6,15, 41.8,5, 42.6,10, 43.8,25, 45,0, 46.2,5, 47.4,-10, 49,5, 50.6,-5, 53,-15, 53.9,-15, 55.5,0, 57.5,-5, 60.3,5, 61.9,-5, 64.4,10, 65.8,-5, 67.6,5, 70,5, 71.6,-5, 74,3, 76.5,-3, 78.9,15, 80.1,-5, 82.9,0, 86.1,3, 90.2,0, 94.2,3, 99.3,0],
  [0,0, 11.1,0, 13.1,-10, 14.8,10, 16.8,30, 18.5,25, 20,0, 21,-30, 21.8,-75, 22.8,-20, 23.6,40, 24.4,75, 25.5,40, 26.5,-20, 27.3,-60, 27.9,-100, 28.9,-50, 29.8,-10, 30.9,5, 31.9,15, 32.9,-5, 33.9,20, 34.9,-5, 35.9,25, 36.9,0, 38.1,15, 39.4,25, 40.6,15, 41.8,20, 42.7,0, 43.8,20, 45,0, 46.2,5, 47.4,-10, 48.5,5, 49.8,-25, 51,0, 53,-5, 55.5,-3, 58.7,-5, 61.9,0, 64.4,20, 65.8,-25, 67.2,5, 68.8,-5, 70,5, 72.4,-5, 74.8,0, 78,3, 81.3,-5, 84.5,5, 86.1,8, 90.2,0, 94.2,3, 99.3,0],
  [0,0, 12.1,0, 14.4,5, 16.8,5, 18.8,-5, 20.4,-15, 21.6,0, 22.8,40, 24,90, 24.6,100, 25.5,30, 26.5,-30, 27.3,-75, 28.1,-40, 28.9,10, 29.7,20, 30.5,-20, 31.3,-35, 32.3,35, 33.3,-10, 34.1,-30, 35.2,25, 36.1,-5, 36.9,-25, 37.7,25, 38.5,-5, 39.4,-10, 40.2,25, 41,5, 42.2,-10, 43.4,10, 45,-5, 46.6,-15, 48.2,15, 49.4,-5, 51.3,-10, 53,0, 55.1,-15, 57.1,10, 58.7,-15, 60.3,0, 61.9,-5, 63.5,-15, 65.5,5, 66.8,-10, 68.4,10, 70,-5, 72.4,0, 74.8,5, 77.3,-10, 79.7,5, 81.7,0, 82.9,-5, 86.1,3, 90.2,-3, 94.2,3, 99.3,0],
  [0,0, 5.5,3, 11.1,3, 16,5, 20.8,15, 22.4,0, 24,-30, 25.6,-65, 27.1,-30, 28.1,20, 28.9,60, 29.7,100, 30.6,40, 31.7,10, 32.5,-15, 33.7,10, 34.9,-5, 36.1,-10, 37.3,-20, 38.5,-10, 40.2,-15, 41.8,-5, 44.2,0, 46.6,-3, 49,0, 52.3,5, 54.3,-5, 57.1,0, 62,0, 66.8,-3, 71.6,0, 76.5,3, 81.3,0, 86.1,3, 94.2,0, 99.3,0],
  [0,0, 11.1,0, 13.1,-10, 14.8,-25, 16.3,5, 17.9,40, 19.6,65, 20.8,30, 22,-40, 23.2,-70, 24.2,-95, 25.2,-20, 26,50, 26.6,65, 27.4,20, 28.2,-40, 28.9,-60, 30.1,-20, 31.3,-20, 32.5,-40, 33.5,10, 34.4,30, 35.3,-5, 36.1,-10, 37.3,15, 38.5,5, 39.4,15, 40.6,5, 41.6,25, 42.6,10, 43.8,25, 45,5, 46.6,10, 48.2,15, 49.8,-5, 51.3,-15, 53,-20, 54.7,-10, 57,-5, 58.7,-10, 61.1,-5, 61.9,-15, 63.5,5, 65.9,10, 67.6,-5, 70,10, 72.4,0, 74.8,5, 77.3,-5, 78.9,3, 82.1,10, 83.7,-5, 86.1,3, 90.2,3, 94.2,0, 99.3,0]
 ],
 [
  [0,0, 12.5,0, 15.3,-9, 17.3,5, 19.8,18, 22.2,10, 23.8,-5, 25,-40, 26.2,-65, 27.4,-20, 28.5,40, 29.3,100, 30.1,40, 31,-10, 32.3,-40, 33.3,-51, 34.3,-20, 35.5,5, 36.7,8, 38.3,3, 39.9,8, 41.5,0, 43.1,5, 44.8,8, 46.4,10, 48,5, 50.4,0, 54.4,-3, 58.5,-3, 62.5,0, 66.5,3, 70.6,0, 74.6,3, 78.6,0, 82.7,2, 99.3,0],
  [0,0, 12.5,0, 15.3,-8, 17.7,5, 21.4,20, 23.8,5, 25.4,-40, 27.4,-86, 28.6,-30, 29.8,40, 30.6,100, 31.7,40, 32.7,-10, 33.9,-30, 35.1,0, 36.3,-15, 37.5,5, 38.3,-10, 39.5,10, 40.7,0, 43.1,5, 46.4,8, 49.6,5, 52.8,0, 55.6,-5, 60.1,-3, 64.1,0, 68.9,-3, 74.6,0, 78.6,3, 86.7,0, 99.3,0],
  [0,0, 12.5,0, 15,-18, 17,10, 18.1,20, 19.1,10, 20.3,71, 21.4,10, 22.2,-30, 23.2,10, 24.2,-40, 24.8,-94, 25.8,-20, 26.9,65, 27.8,10, 29,-53, 30.2,-20, 31.9,-71, 32.8,10, 33.5,30, 34.7,-10, 35.9,10, 37.1,-15, 38.3,20, 39.9,20, 41.1,32, 42.7,25, 44.4,20, 46.4,15, 48.4,0, 50,-10, 51.2,5, 52.4,-15, 53.6,5, 55.2,-20, 56.9,-10, 58.5,-20, 60.9,-5, 62.5,5, 63.7,-10, 64.5,30, 65.7,-15, 67.3,5, 68.9,-5, 71.3,5, 72.9,-5, 75.4,5, 77.8,-5, 80.2,5, 82.7,-5, 84.3,10, 85.5,-10, 87.5,5, 90.7,0, 94.8,3, 99.3,0],
  [0,0, 14.1,0, 17.3,3, 19.8,12, 23,5, 24.6,-20, 26.6,-50, 27.8,-63, 29,-30, 30.2,30, 31.9,67, 32.8,40, 33.9,-20, 34.7,-30, 35.7,50, 36.1,91, 37.1,20, 37.9,-40, 38.5,-63, 39.5,-10, 40.5,38, 41.5,0, 42.5,-25, 43.5,-10, 44.8,5, 46.4,-5, 48,10, 49.2,26, 50.4,-20, 51.6,5, 53.2,10, 54.4,-5, 56,5, 57.7,-10, 59.3,5, 60.5,-5, 62.1,10, 63.3,-5, 64.9,5, 66.5,-5, 67.7,5, 69.7,-15, 70.9,5, 72.9,0, 75.4,5, 77.8,-3, 81,0, 83.5,3, 85.9,-5, 88.3,3, 90.7,0, 94.8,3, 99.3,0]
 ]
];
const vtSyn = [
 [
  [0,0, 3.1,3, 5.1,5, 6.3,-5, 7.1,-40, 7.7,-55, 8.7,-30, 9.9,50, 11,100, 12.1,60, 13.5,-10, 15.6,-40, 17.6,-30, 20,-15, 23.2,-5, 27.3,5, 31.3,3, 39.4,0, 51.5,-2, 99.3,0],
  [0,0, 7.8,0, 9.5,-10, 10.7,-10, 12.1,20, 13.5,45, 15,15, 16.4,-15, 17.6,-25, 19.2,-20, 21.6,-10, 24.8,0, 27.3,3, 35.3,0, 47.4,-2, 59.5,0, 99.3,0],
  [0,0, 9.5,0, 11.5,5, 13.5,15, 15,20, 16.4,0, 17.6,-25, 18.5,-55, 20,-25, 21.4,15, 22.6,40, 24,15, 25.6,0, 28.9,-5, 33.7,-5, 38.5,-3, 43.4,0, 99.3,0],
  [0,0, 9,0, 11.1,-5, 12.9,-10, 14.8,15, 16.6,30, 18.4,0, 20.2,-40, 21.6,0, 22.8,40, 24.2,0, 25.6,-35, 27.3,-25, 28.9,-5, 30.5,5, 33.7,8, 38.5,5, 43.4,3, 48.2,-5, 53.1,-5, 59.5,-2, 67.6,0, 99.3,0],
  [0,0, 11.1,0, 14.4,5, 16.8,15, 18.4,0, 19.6,-35, 21.2,-80, 22.4,-35, 24,30, 25.5,55, 27.3,40, 29.7,20, 32.1,0, 34.5,-10, 36.9,-15, 40.2,-10, 43.4,-5, 47.4,0, 99.3,0]
 ],
 [
  [0,0, 11.3,0, 13.3,-8, 15.3,10, 18.4,30, 20.2,10, 21.4,-40, 22.4,-85, 23.8,-40, 25,20, 26,50, 27.3,20, 28.6,5, 31.5,0, 33.9,-3, 38.7,-3, 45.2,0, 99.3,0],
  [0,0, 10.5,0, 12.9,-20, 14.5,10, 16.1,45, 17.3,65, 18.5,40, 19.7,-20, 20.3,-60, 21.4,-10, 22.2,50, 23,75, 24.2,20, 25.4,-20, 26.8,-55, 28.2,-30, 29.8,-5, 32.3,10, 35.5,20, 38.7,15, 41.9,10, 45.2,0, 49.2,-5, 53.2,-10, 58,-5, 62.9,0, 99.3,0],
  [0,3, 12,3, 14.5,-10, 16.9,15, 19.4,35, 21.1,10, 22.6,-50, 23.8,-90, 25.2,-30, 26.2,20, 27,50, 28.2,20, 29.8,0, 32.3,5, 37.1,3, 45.2,0, 99.3,0],
  [0,0, 11.3,0, 13.3,-15, 14.9,5, 16.9,25, 18.1,35, 19.4,15, 20.8,-40, 22.2,10, 23.4,65, 24.6,20, 25.8,-20, 27.4,-45, 29,-30, 31.5,-10, 33.9,5, 37.1,15, 40.3,12, 43.5,8, 47.6,3, 53.2,-5, 57.3,-5, 62.9,0, 99.3,0],
  [0,0, 12.9,0, 15.3,3, 18.1,-10, 20.6,-25, 21.9,10, 23,60, 23.6,80, 24.6,40, 25.6,-10, 26.8,-30, 28.2,-40, 29.8,-30, 32.3,-10, 34.7,5, 37.1,10, 40.3,10, 43.5,5, 46.8,0, 51.6,-5, 57.3,-3, 65.3,0, 99.3,0]
 ],
 [
  [0,0, 11.1,0, 12.7,-10, 14,-25, 15.6,0, 17.2,25, 19.2,55, 20.4,30, 21.5,-40, 22.4,-100, 23.7,-20, 24.5,30, 25.2,45, 26,20, 27.3,-30, 28.9,-30, 30.5,-20, 32.1,0, 33.7,10, 36.1,15, 38.5,15, 41,10, 44.2,8, 47.4,0, 50.6,-5, 53.9,-5, 58.7,-3, 63.5,0, 99.3,0],
  [0,0, 11.1,0, 13.1,-8, 15.1,10, 17.4,20, 19.2,5, 21,-25, 22.4,0, 23.9,55, 25,20, 26.5,-20, 27.7,-45, 29.3,-25, 31.3,0, 33.7,10, 36.1,12, 38.5,12, 41.8,8, 45.8,3, 49.8,-3, 53.9,-3, 62,0, 99.3,0],
  [0,0, 12.7,0, 15.2,3, 18.4,-5, 20.8,-15, 22.4,10, 23.8,45, 25.2,20, 26.5,-5, 27.7,-25, 29.7,-15, 32.1,-5, 35.3,5, 38.5,10, 42.6,5, 45.8,3, 53.9,0, 99.3,0],
  [0,0, 11.1,0, 16,5, 20.8,18, 22.4,0, 24,-35, 25.8,-75, 27.3,-40, 28.5,20, 29.5,55, 30.9,25, 32.9,10, 35.3,-5, 37.7,-15, 40.2,-10, 43.4,-5, 47.4,0, 53.9,3, 62,0, 99.3,0],
  [0,0, 11.1,0, 13.1,-10, 14.8,-30, 16.3,-5, 17.9,25, 19.6,45, 21.2,50, 22.4,10, 23.4,-60, 24,-100, 25,-40, 25.8,30, 26.5,55, 27.4,10, 28.5,-30, 30.5,-25, 32.5,-20, 34.1,0, 36.1,10, 38.5,15, 41,10, 44.2,10, 47.4,5, 50.6,-3, 53.9,-5, 58.7,-5, 63.5,0, 99.3,0]
 ],
 [
  [0,0, 12.5,0, 15.3,-10, 17.3,0, 19.6,18, 21.8,12, 23.8,-5, 26,-51, 27.4,-10, 28.9,44, 30.2,5, 31.9,-21, 33.9,-10, 35.9,5, 38.3,8, 41.5,8, 44.8,5, 49.6,0, 54.4,-3, 62.5,0, 99.3,0],
  [0,0, 12.5,0, 15.3,-10, 17.7,5, 21.4,20, 23.8,5, 25.8,-40, 27.4,-79, 28.6,-30, 30.1,51, 31.5,10, 33.5,-14, 35.5,0, 37.5,5, 41.5,5, 46.4,5, 54.4,-2, 62.5,0, 99.3,0],
  [0,0, 12.5,0, 15,-15, 17,5, 19,30, 21,41, 22.2,20, 23.6,-30, 24.8,-100, 25.8,-30, 26.6,50, 27.2,65, 28.2,20, 29.4,-20, 30.6,-35, 32.7,-10, 34.7,10, 37.5,18, 40.7,18, 43.9,15, 46.4,10, 49.6,0, 54.4,-8, 59.4,-5, 64.1,0, 99.3,0],
  [0,0, 14.1,0, 17.3,3, 19.8,10, 23.4,13, 25,-10, 26.6,-60, 27.8,-102, 29,-50, 30.1,20, 31.9,67, 33.5,50, 35.9,25, 38.3,-5, 40.3,-20, 42.7,-27, 44.8,-15, 48,-5, 52.8,0, 62.5,0, 99.3,0]
 ]
];

// ---------------- LAYOUT ----------------
const K = 1.095;                 // horizontal stretch of the original figure
const FONT = '"Liberation Sans", Arial, Helvetica, sans-serif';
const XMAX = 99.35;
const PXS = 4.129;               // px per second (full width)
const PW = XMAX * PXS / K;       // panel width (unscaled)
const HH = 54;                   // half-height of a panel
const colX = [20.7, 453.3, 885.7, 1318.3];
const FS = 26.5;
const TFS = 19.5;                // tick label size

const sections = [
  {title: sectionTitles[0], stations: ewStations, peak: ewPeak, top: ewTop, bottom: ewBottom, obs: ewObs, syn: ewSyn,
   zeros: [105, 215.2, 325.4, 435.6], titleY: 33, axisY: 481, labelDy: -31, topDy: -4},
  {title: sectionTitles[1], stations: nsStations, peak: nsPeak, top: nsTop, bottom: nsBottom, obs: nsObs, syn: nsSyn,
   zeros: [620.7, 707.7, 795, 881.7, 968.7], titleY: 563, axisY: 1007.3, labelDy: -26.5, topDy: -6},
  {title: sectionTitles[2], stations: vtStations, peak: vtPeak, top: vtTop, bottom: vtBottom, obs: vtObs, syn: vtSyn,
   zeros: [1144.3, 1231.5, 1318.7, 1405.9, 1493.1], titleY: 1085, axisY: 1532, labelDy: -26.5, topDy: -6}
];

const stage = document.getElementById("stage");
function place(node, left, top) {
  const d = document.createElement("div");
  d.style.position = "absolute"; d.style.left = left + "px"; d.style.top = top + "px";
  d.appendChild(node); stage.appendChild(d);
}
const pts = f => { const o = []; for (let i = 0; i < f.length; i += 2) o.push({t: f[i], a: f[i + 1]}); return o; };
const svgStyle = {background: "transparent", overflow: "visible", fontFamily: FONT};

sections.forEach(sec => {
  const tt = document.createElement("div");
  tt.className = "title"; tt.textContent = sec.title;
  tt.style.left = (19.2 / K) + "px"; tt.style.top = (sec.titleY - 0.8465 * 30.6) + "px";
  stage.appendChild(tt);

  sec.stations.forEach((col, c) => {
    col.forEach((name, r) => {
      const plot = Plot.plot({
        width: PW, height: 2 * HH,
        marginTop: 0, marginRight: 0, marginBottom: 0, marginLeft: 0,
        x: {domain: [0, XMAX], axis: null},
        y: {domain: [-3 * HH, 3 * HH], axis: null},
        style: svgStyle,
        marks: [
          Plot.text([name], {text: d => d, frameAnchor: "left", textAnchor: "start", lineAnchor: "bottom", dy: sec.labelDy, fontSize: FS, fill: "#000"}),
          Plot.text([sec.peak[c][r].toFixed(2)], {text: d => d, frameAnchor: "left", textAnchor: "start", lineAnchor: "bottom", dy: 26.3, fontSize: FS, fill: "#000"}),
          Plot.text([sec.top[c][r].toFixed(2)], {text: d => d, frameAnchor: "right", textAnchor: "end", lineAnchor: "bottom", dy: sec.topDy, fontSize: FS, fill: "#000"}),
          Plot.text([sec.bottom[c][r].toFixed(2)], {text: d => d, frameAnchor: "right", textAnchor: "end", lineAnchor: "bottom", dy: 26.3, fontSize: FS, fill: "#000"}),
          Plot.line(pts(sec.obs[c][r]), {x: "t", y: "a", stroke: "#000", strokeWidth: 3.8, curve: "catmull-rom"}),
          Plot.line(pts(sec.syn[c][r]), {x: "t", y: "a", stroke: "#ff0000", strokeWidth: 3.8, curve: "catmull-rom"})
        ]
      });
      place(plot, colX[c] / K, sec.zeros[r] - HH);
    });
    const AXPAD = 12;
    const ax = Plot.plot({
      width: PW + 2 * AXPAD, height: 50,
      marginLeft: AXPAD, marginRight: AXPAD, marginTop: 0, marginBottom: 49,
      x: {domain: [0, XMAX]}, y: {domain: [0, 1], axis: null},
      style: svgStyle,
      marks: [
        Plot.ruleY([0], {stroke: "#1a1a1a", strokeWidth: 1.3}),
        Plot.axisX(timeMinorTicks, {tickSize: 4.7, fill: "none", stroke: "#1a1a1a", strokeWidth: 1.2, label: null}),
        Plot.axisX(timeTicks, {tickSize: 8, tickPadding: 38 - 8 - 0.71 * TFS, fontSize: TFS, fill: "#333", stroke: "#1a1a1a", strokeWidth: 1.2, label: null, tickFormat: d => String(d)})
      ]
    });
    place(ax, colX[c] / K - AXPAD, sec.axisY - 1);
  });
});

// legend
const legendColors = ["#000", "#ff0000"];
const legendY = [1610, 1644.5];
const legendBase = [1616.5, 1651];
legendLabels.forEach((lab, i) => {
  const sw = document.createElement("div");
  sw.className = "sw"; sw.style.background = legendColors[i];
  sw.style.left = (1391.7 / K) + "px"; sw.style.width = ((1478.3 - 1391.7) / K) + "px";
  sw.style.top = (legendY[i] - 1.75) + "px";
  stage.appendChild(sw);
  const t = document.createElement("div");
  t.className = "leg"; t.textContent = lab;
  t.style.left = (1493 / K) + "px"; t.style.top = (legendBase[i] - 0.8465 * 24.5) + "px";
  stage.appendChild(t);
});
</script></body></html>
